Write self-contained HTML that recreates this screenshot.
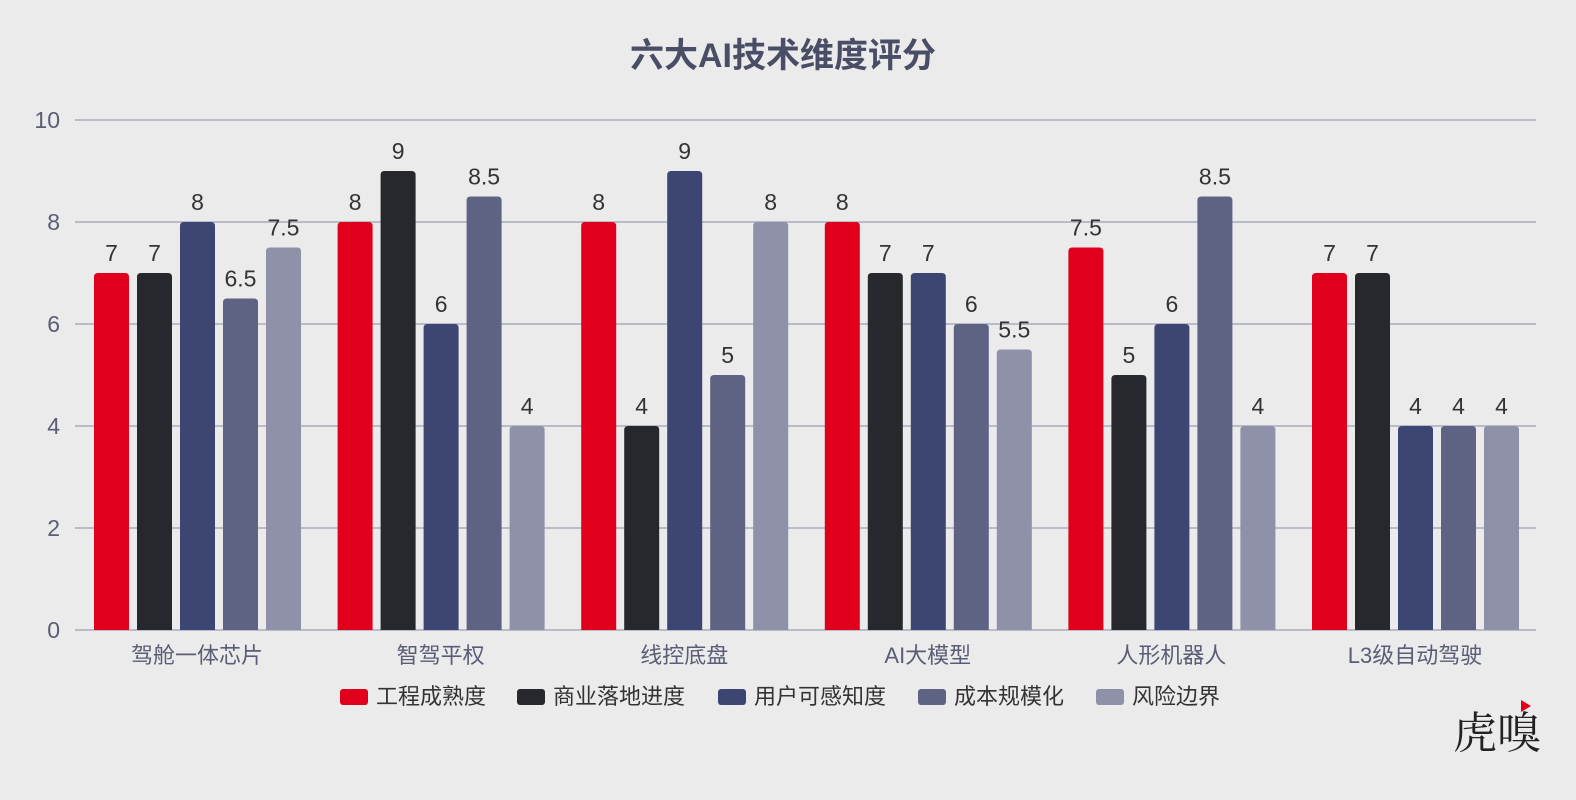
<!DOCTYPE html>
<html><head><meta charset="utf-8"><style>
html,body{margin:0;padding:0;background:#ebebeb;}
svg{display:block;font-family:"Liberation Sans","Noto Sans CJK SC",sans-serif;}
</style></head><body>
<svg id="c" width="1576" height="800" xmlns="http://www.w3.org/2000/svg">
<rect width="1576" height="800" fill="#ebebeb"/>
<text x="783" y="67" text-anchor="middle" font-size="34" font-weight="bold" fill="#4a4d66">六大AI技术维度评分</text>
<g id="g"></g>
<text x="1497" y="748" text-anchor="middle" font-size="44" fill="#222" font-family="'Noto Serif CJK SC',serif">虎嗅</text>
<path d="M1521 700 l10 6 l-10 6z" fill="#e0001b"/>
</svg>
<script>
const g=document.getElementById('g');let s='';
const y0=630,u=51;
for(let i=0;i<=5;i++){const y=y0-i*2*u;s+=`<line x1="75" x2="1536" y1="${y}" y2="${y}" stroke="#a9abbd" stroke-width="1.5"/><text x="60" y="${y+8}" text-anchor="end" font-size="23" fill="#5a5d75">${i*2}</text>`;}
const cats=['驾舱一体芯片','智驾平权','线控底盘','AI大模型','人形机器人','L3级自动驾驶'];
const data=[[7,7,8,6.5,7.5],[8,9,6,8.5,4],[8,4,9,5,8],[8,7,7,6,5.5],[7.5,5,6,8.5,4],[7,7,4,4,4]];
const col=['#e0001b','#26282e','#3d4673','#5e6283','#8e91a8'];
for(let c=0;c<6;c++){const gx=94+c*243.6;
for(let k=0;k<5;k++){const v=data[c][k],x=gx+k*43,h=v*u,y=y0-h;
s+=`<path d="M${x} ${y0} V${y+4} Q${x} ${y} ${x+4} ${y} H${x+31} Q${x+35} ${y} ${x+35} ${y+4} V${y0}Z" fill="${col[k]}"/>`;
s+=`<text x="${x+17.5}" y="${y-12}" text-anchor="middle" font-size="23" fill="#333">${v}</text>`;}
s+=`<text x="${gx+103}" y="663" text-anchor="middle" font-size="22" fill="#5a5d75">${cats[c]}</text>`;}
const leg=['工程成熟度','商业落地进度','用户可感知度','成本规模化','风险边界'];
const lx=[340,517,718,918,1096];
for(let k=0;k<5;k++){s+=`<rect x="${lx[k]}" y="689" width="28" height="16" rx="3" fill="${col[k]}"/><text x="${lx[k]+36}" y="704" font-size="22" fill="#333">${leg[k]}</text>`;}
g.innerHTML=s;
</script>
</body></html>
